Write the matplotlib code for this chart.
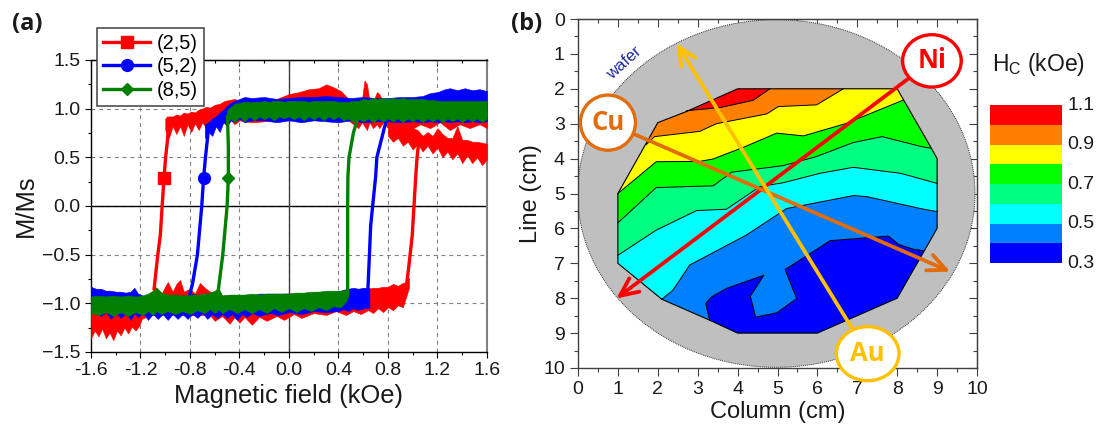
import matplotlib
matplotlib.use("Agg")
import numpy as np
import matplotlib.pyplot as plt
from matplotlib.colors import ListedColormap
from matplotlib.patches import Circle, Ellipse, Polygon
from matplotlib.ticker import MultipleLocator

plt.rcParams['font.family'] = ['Liberation Sans', 'DejaVu Sans']
plt.rcParams['mathtext.default'] = 'regular'

# (a) hysteresis loops. bands are (field, low, high)
red_up = [(-1.00,.78,.90),(-.97,.70,.92),(-.94,.82,.92),(-.91,.74,.94),(-.88,.82,.93),(-.85,.72,.96),(-.82,.84,.95),(-.79,.76,.97),
    (-.76,.85,.96),(-.73,.78,.99),(-.70,.86,1.00),(-.67,.80,1.02),(-.64,.88,1.01),(-.60,.84,1.04),(-.56,.90,1.05),(-.52,.86,1.08),
    (-.48,.90,1.09),(-.44,.84,1.10),(-.40,.88,1.08),(-.30,.86,1.08),(-.20,.87,1.09),(-.10,.88,1.10),(0.0,.90,1.15),(.08,.90,1.17),
    (.16,.90,1.20),(.24,.90,1.21),(.30,.90,1.25),(.36,.90,1.22),(.42,.88,1.18),(.48,.88,1.10),(.52,.84,1.07),(.56,.80,1.08),
    (.59,.86,1.10),(.61,.82,1.29),(.63,.78,1.25),(.65,.86,1.08),(.68,.80,1.07),(.71,.84,1.17),(.73,.80,1.15),(.76,.86,1.07),
    (.80,.80,1.07),(.90,.84,1.06),(.98,.78,1.06),(1.06,.84,1.05),(1.14,.80,1.06),(1.22,.86,1.05),(1.30,.78,1.05),(1.38,.84,1.05),
    (1.46,.80,1.05),(1.54,.84,1.05),(1.60,.80,1.05)]
red_up2 = [(.80,.72,.88),(.84,.66,.86),(.88,.70,.85),(.92,.62,.83),(.96,.66,.82),(1.00,.58,.80),(1.04,.64,.78),(1.08,.56,.72),
    (1.12,.62,.76),(1.16,.54,.72),(1.20,.60,.80),(1.24,.50,.74),(1.28,.56,.70),(1.32,.48,.70),(1.36,.54,.82),(1.40,.44,.68),
    (1.44,.52,.68),(1.48,.44,.66),(1.52,.50,.66),(1.56,.42,.65),(1.60,.48,.64)]
red_dn = [(-1.60,-1.36,-.97),(-1.57,-1.28,-.97),(-1.54,-1.34,-.97),(-1.51,-1.26,-.98),(-1.48,-1.36,-.98),(-1.45,-1.30,-.98),
    (-1.42,-1.38,-.98),(-1.39,-1.28,-.98),(-1.36,-1.33,-.98),(-1.33,-1.25,-.98),(-1.30,-1.31,-.98),(-1.27,-1.24,-.98),(-1.24,-1.28,-.98),
    (-1.21,-1.23,-.98),(-1.19,-1.16,-.98),(-1.12,-1.12,-.92),(-1.08,-1.12,-.83),(-1.03,-1.12,-.90),(-.98,-1.12,-.78),(-.94,-1.12,-.88),
    (-.91,-1.12,-.80),(-.88,-1.12,-.76),(-.85,-1.12,-.88),(-.80,-1.12,-.85),(-.76,-1.12,-.90),(-.72,-1.12,-.79),(-.68,-1.12,-.84),
    (-.64,-1.12,-.88),(-.60,-1.18,-.88),(-.54,-1.13,-.92),(-.48,-1.21,-.92),(-.44,-1.14,-.92),(-.40,-1.20,-.92),(-.36,-1.14,-.92),
    (-.30,-1.22,-.92),(-.24,-1.14,-.92),(-.18,-1.18,-.92),(-.10,-1.13,-.92),(-.04,-1.17,-.90),(.04,-1.11,-.90),(.10,-1.15,-.90),
    (.20,-1.10,-.89),(.30,-1.12,-.88),(.38,-1.08,-.88),(.46,-1.12,-.86),(.52,-1.08,-.86),(.58,-1.11,-.86),(.64,-1.07,-.85),
    (.68,-1.10,-.84),(.72,-1.05,-.84),(.76,-1.09,-.83),(.80,-1.04,-.83),(.84,-1.07,-.80),(.88,-1.02,-.82),(.92,-1.04,-.79),
    (.95,-.92,-.78),(.97,-.84,-.74)]

blue_up = [(-.68,.70,.84),(-.65,.76,.86),(-.62,.72,.90),(-.59,.82,.92),(-.56,.76,.96),(-.53,.86,.99),(-.50,.82,1.03),(-.47,.88,1.06),
    (-.44,.86,1.08),(-.40,.90,1.10),(-.36,.86,1.12),(-.30,.88,1.11),(-.20,.88,1.12),(-.10,.86,1.10),(0.0,.88,1.11),(.10,.86,1.12),
    (.20,.88,1.12),(.30,.87,1.13),(.40,.86,1.12),(.50,.88,1.11),(.60,.86,1.12),(.70,.87,1.11),(.80,.87,1.11),(.90,.86,1.12),
    (1.00,.87,1.12),(1.08,.86,1.13),(1.14,.87,1.16),(1.20,.86,1.17),(1.26,.87,1.20),(1.30,.86,1.21),(1.36,.87,1.19),(1.42,.86,1.21),
    (1.48,.87,1.19),(1.54,.86,1.20),(1.60,.87,1.18)]
blue_dn = [(-1.60,-1.10,-.83),(-1.56,-1.08,-.85),(-1.52,-1.13,-.85),(-1.48,-1.09,-.87),(-1.44,-1.16,-.87),(-1.40,-1.10,-.88),
    (-1.36,-1.15,-.88),(-1.32,-1.10,-.89),(-1.28,-1.17,-.88),(-1.25,-1.10,-.84),(-1.22,-1.14,-.90),(-1.18,-1.10,-.92),(-1.14,-1.17,-.92),
    (-1.10,-1.11,-.92),(-1.06,-1.16,-.92),(-1.02,-1.11,-.92),(-.98,-1.17,-.92),(-.94,-1.11,-.92),(-.90,-1.16,-.92),(-.86,-1.11,-.92),
    (-.82,-1.16,-.92),(-.78,-1.11,-.90),(-.74,-1.15,-.92),(-.70,-1.10,-.92),(-.66,-1.16,-.92),(-.62,-1.11,-.92),(-.58,-1.15,-.92),
    (-.54,-1.11,-.92),(-.50,-1.15,-.92),(-.46,-1.11,-.92),(-.42,-1.17,-.92),(-.38,-1.11,-.92),(-.34,-1.14,-.92),(-.30,-1.10,-.92),
    (-.24,-1.13,-.90),(-.16,-1.10,-.90),(-.08,-1.12,-.90),(0.0,-1.09,-.90),(.10,-1.11,-.90),(.20,-1.08,-.89),(.30,-1.09,-.88),
    (.40,-1.08,-.88),(.44,-1.06,-.86),(.48,-1.08,-.85),(.52,-1.05,-.84),(.56,-1.07,-.85),(.60,-1.05,-.84),(.65,-1.05,-.84)]

green_up = [(-.50,.86,.98),(-.47,.90,1.02),(-.44,.86,1.05),(-.40,.92,1.06),(-.36,.87,1.07),(-.32,.92,1.07),(-.28,.88,1.07),(-.24,.92,1.07),
    (-.20,.89,1.08),(-.16,.92,1.07),(-.12,.88,1.08),(-.08,.92,1.08),(-.04,.90,1.07),(0.0,.92,1.08),(.04,.89,1.08),(.08,.92,1.08),
    (.12,.88,1.08),(.16,.92,1.07),(.20,.89,1.08),(.24,.92,1.08),(.28,.88,1.08),(.32,.92,1.08),(.36,.89,1.08),(.40,.92,1.07),
    (.44,.88,1.07),(.48,.90,1.07),(.52,.86,1.08),(.56,.90,1.08),(.60,.87,1.10),(.64,.90,1.09),(.68,.86,1.11),(.72,.90,1.10),
    (.76,.87,1.11),(.80,.90,1.10),(.84,.87,1.11),(.88,.90,1.10),(.92,.86,1.11),(.96,.90,1.10),(1.00,.87,1.10),(1.04,.90,1.10),
    (1.08,.86,1.10),(1.12,.90,1.09),(1.16,.87,1.09),(1.20,.90,1.08),(1.24,.86,1.08),(1.28,.90,1.08),(1.32,.87,1.08),(1.36,.90,1.08),
    (1.40,.86,1.08),(1.44,.90,1.08),(1.48,.87,1.08),(1.52,.90,1.08),(1.56,.86,1.08),(1.60,.90,1.08)]
green_dn = [(-1.60,-1.10,-.93),(-1.54,-1.12,-.92),(-1.48,-1.09,-.93),(-1.42,-1.13,-.92),(-1.36,-1.09,-.93),(-1.30,-1.13,-.92),
    (-1.24,-1.09,-.93),(-1.18,-1.12,-.92),(-1.14,-1.08,-.90),(-1.10,-1.12,-.87),(-1.07,-1.08,-.84),(-1.03,-1.11,-.89),(-.98,-1.08,-.91),
    (-.92,-1.11,-.91),(-.86,-1.08,-.92),(-.80,-1.11,-.91),(-.74,-1.07,-.91),(-.68,-1.10,-.90),(-.64,-1.06,-.89),(-.60,-1.10,-.87),
    (-.57,-1.06,-.84),(-.54,-1.10,-.92),(-.48,-1.06,-.91),(-.42,-1.10,-.91),(-.36,-1.06,-.91),(-.30,-1.10,-.90),(-.24,-1.06,-.91),
    (-.18,-1.10,-.90),(-.12,-1.05,-.90),(-.06,-1.09,-.90),(0.0,-1.05,-.90),(.06,-1.09,-.89),(.12,-1.05,-.89),(.18,-1.08,-.88),
    (.24,-1.04,-.88),(.30,-1.07,-.87),(.36,-1.03,-.87),(.42,-1.04,-.87),(.46,-.98,-.86),(.48,-.92,-.86)]

red_left = [(-1.09,-.85),(-1.06,-.50),(-1.04,-.30),(-1.025,0.0),(-1.01,.29),(-.997,.50),(-.98,.70),(-.975,.90)]
red_right = [(.951,-.80),(.97,-.60),(.996,-.30),(1.01,0.0),(1.024,.30),(1.035,.50),(1.05,.68)]
blue_left = [(-.80,-.90),(-.78,-.80),(-.74,-.50),(-.705,0.0),(-.69,.29),(-.675,.50),(-.65,.80)]
blue_right = [(.636,-.90),(.65,-.50),(.66,-.20),(.676,0.0),(.70,.30),(.71,.50),(.75,.70),(.79,.90)]
green_left = [(-.57,-.85),(-.535,-.50),(-.50,0.0),(-.49,.29),(-.49,.60),(-.497,.92)]
green_right = [(.474,-.90),(.474,-.50),(.474,0.0),(.476,.30),(.485,.50),(.52,.75),(.555,.90)]

sample_labels = ['(2,5)', '(5,2)', '(8,5)']
hc_levels = [0.3, 0.4, 0.5, 0.6, 0.7, 0.8, 0.9, 1.0, 1.1]
hc_colors = ['#0000FF', '#0080FF', '#00FFFF', '#00FF80', '#00FF00', '#FFFF00', '#FF8000', '#FF0000']
hc_ticks = [1.1, 0.9, 0.7, 0.5, 0.3]
hc_tick_labels = ['1.1', '0.9', '0.7', '0.5', '0.3']

# (b) outline of the map and the contour lines, (column, line)
hull = [(4,2),(8,2),(8.83,3.65),(9,4),(9,6),(8,8),(6,9),(4,9),(3.3,8.63),(2.1,8.03),(1,7),(1,5),(2,2.97),(2.72,2.65)]
line_red = [(2.72,2.63),(3.6,2.53),(4.39,2.33),(4.81,2.0)]
line_orange = [(1.71,3.6),(1.92,3.37),(3.05,3.22),(3.47,3.0),(4.73,2.72),(5.02,2.51),(5.98,2.46),(6.65,2.0)]
line_yellow = [(1,5),(1.96,4.09),(3.05,4.08),(3.39,4.01),(4.18,3.66),(4.98,3.27),(5.65,3.35),(6.7,3.0),(8.16,2.32)]
line_green = [(1,5.84),(1.96,4.83),(3.39,4.78),(3.85,4.39),(5.15,4.2),(5.98,3.94),(6.9,3.54),(7.62,3.37),(8.62,3.66),(8.83,3.7)]
line_spring = [(1,6.77),(1.96,6.05),(2.97,5.49),(3.72,5.45),(4.56,4.8),(5.15,4.69),(6.07,4.42),(6.9,4.25),(8.08,4.42),(9,4.71)]
line_cyan = [(2.1,8.03),(2.38,7.77),(2.8,7.05),(4.22,6.19),(5.23,5.43),(6.9,5.06),(7.24,5.09),(8.58,5.43),(9,5.52)]
line_blue = [(3.3,8.63),(3.2,8.15),(3.35,7.96),(3.72,7.72),(4.66,7.34),(4.32,7.94),(4.45,8.54),(4.98,8.42),(5.48,8.01),(5.19,7.18),
    (6.32,6.35),(6.99,6.29),(7.78,6.22),(8.04,6.46),(8.41,6.6),(8.68,6.64)]
blue_corners = [(8,8),(6,9),(4,9)]

element_names = ['Ni', 'Cu', 'Au']
element_colors = ['#FF0000', '#E26B0A', '#FFC000']
element_tail = [(8.87,1.2),(0.75,2.97),(7.26,9.59)]
element_tip = [(0.96,8.01),(9.33,7.24),(2.47,0.69)]
element_size = [(1.47,1.5),(1.38,1.58),(1.57,1.55)]

W, H = 1100, 428
fig = plt.figure(figsize=(W/100, H/100), dpi=100)

def px_axes(x0, y0, x1, y1):
    return fig.add_axes([x0/W, 1-y1/H, (x1-x0)/W, (y1-y0)/H])

def band(ax, rows, color):
    x, lo, hi = zip(*rows)
    ax.fill_between(x, lo, hi, color=color, lw=0.4, zorder=3)

# ---- panel a
ax = px_axes(91, 60, 487, 352)
ax.set_xlim(-1.6, 1.6)
ax.set_ylim(-1.5, 1.5)
ax.set_xticks(np.arange(-1.6, 1.61, 0.4))
ax.set_xticklabels(['-1.6', '-1.2', '-0.8', '-0.4', '0.0', '0.4', '0.8', '1.2', '1.6'])
ax.set_yticks([-1.5, -1.0, -0.5, 0.0, 0.5, 1.0, 1.5])
ax.xaxis.set_minor_locator(MultipleLocator(0.2))
ax.yaxis.set_minor_locator(MultipleLocator(0.25))
ax.grid(True, which='major', color='#808080', lw=0.8, ls=(0, (3.5, 3.5)), zorder=1)
ax.set_axisbelow(True)
ax.axhline(0, color='black', lw=1.0, zorder=2)
ax.axvline(0, color='#404040', lw=1.0, zorder=2)

loops = [('#FF0000', 's', 9, [red_up, red_up2, red_dn], red_left, red_right),
         ('#0000FF', 'o', 8.5, [blue_up, blue_dn], blue_left, blue_right),
         ('#007F00', 'D', 6, [green_up, green_dn], green_left, green_right)]
handles = []
for (color, marker, ms, bands, left, right), label in zip(loops, sample_labels):
    for rows in bands:
        band(ax, rows, color)
    xr, yr = zip(*right)
    ax.plot(xr, yr, color=color, lw=2.4, zorder=3)
    xl, yl = zip(*left)
    k = [i for i, v in enumerate(yl) if v == 0.29]
    h, = ax.plot(xl, yl, color=color, lw=2.4, marker=marker, ms=ms, markevery=k, zorder=4, label=label)
    handles.append(h)

for s in ['top', 'bottom', 'left']:
    ax.spines[s].set_color('black')
    ax.spines[s].set_linewidth(1.0)
ax.spines['right'].set_color('#808080')
ax.spines['right'].set_linewidth(1.5)
ax.tick_params(which='major', direction='out', length=4.5, width=0.8, labelsize=14, pad=3, labelcolor='#1a1a1a')
ax.tick_params(which='minor', direction='out', length=2.5, width=0.8)
top_a = ax.secondary_xaxis('top')
top_a.set_xticks(ax.get_xticks(), labels=[])
top_a.xaxis.set_minor_locator(MultipleLocator(0.2))
top_a.tick_params(which='major', direction='in', length=4, width=0.8)
top_a.tick_params(which='minor', direction='in', length=2.5, width=0.8)
ax.set_xlabel('Magnetic field (kOe)', fontsize=18.4, labelpad=3, color='#1a1a1a')
ax.set_ylabel('M/Ms', fontsize=18.4, labelpad=3, color='#1a1a1a')
leg = ax.legend(handles=handles, loc='upper left', bbox_to_anchor=(6/396, 1+32/292), borderaxespad=0, fontsize=14.5,
                handlelength=2.35, handletextpad=0.3, labelspacing=0.22, borderpad=0.3, fancybox=False, framealpha=1,
                edgecolor='#404040', numpoints=1)
leg.get_frame().set_linewidth(1.1)
leg.set_zorder(10)
fig.text(12/W, 1-30/H, '(a)', fontsize=17, fontweight='bold', family=['Open Sans', 'DejaVu Sans'], color='#1a1a1a')

# ---- panel b
bx = px_axes(578, 19, 977, 368)
bx.set_xlim(0, 10)
bx.set_ylim(10, 0)
bx.xaxis.set_major_locator(MultipleLocator(1))
bx.xaxis.set_minor_locator(MultipleLocator(0.5))
bx.yaxis.set_major_locator(MultipleLocator(1))
bx.yaxis.set_minor_locator(MultipleLocator(0.5))

bx.add_patch(Circle((4.97, 5), 4.98, facecolor='#BFBFBF', edgecolor='#303030', lw=0.7, ls=(0, (1, 1)), zorder=1))
map_patch = Polygon(hull, closed=True, facecolor=hc_colors[7], edgecolor='none', zorder=2)
bx.add_patch(map_patch)

# each level covers everything below its contour line, clipped to the map outline
contours = [line_red, line_orange, line_yellow, line_green, line_spring, line_cyan]
for line, color in zip(contours, hc_colors[6:0:-1]):
    pts = [(-1, line[0][1])] + line + [(11, line[-1][1]), (11, 11), (-1, 11)]
    p = Polygon(pts, closed=True, facecolor=color, edgecolor='none', zorder=3)
    bx.add_patch(p)
    p.set_clip_path(map_patch)
p = Polygon(line_blue + blue_corners, closed=True, facecolor=hc_colors[0], edgecolor='none', zorder=3)
bx.add_patch(p)
p.set_clip_path(map_patch)
for line in contours + [line_blue]:
    xc, yc = zip(*line)
    bx.plot(xc, yc, color='black', lw=0.7, zorder=4)
bx.add_patch(Polygon(hull, closed=True, facecolor='none', edgecolor='black', lw=0.8, zorder=5))

bx.text(1.17, 1.26, 'wafer', color='#1F2A9C', fontsize=12, rotation=42, ha='center', va='center', zorder=6)

for color, tail, tip in zip(element_colors, element_tail, element_tip):
    bx.annotate('', xy=tip, xytext=tail, zorder=7, annotation_clip=False,
                arrowprops=dict(arrowstyle='->,head_length=1.3,head_width=0.6', color=color, lw=2.7, shrinkA=0, shrinkB=0))
for name, color, tail, size in zip(element_names, element_colors, element_tail, element_size):
    bx.add_patch(Ellipse(tail, size[0], size[1], facecolor='white', edgecolor=color, lw=2.4, zorder=8, clip_on=False))
    bx.text(tail[0], tail[1], name, color=color, fontsize=18.5, fontweight='bold', ha='center', va='center', zorder=9,
            family=['Open Sans', 'DejaVu Sans'])

for s in bx.spines.values():
    s.set_color('#404040')
    s.set_linewidth(1.0)
bx.tick_params(which='major', direction='out', length=6, width=0.8, labelsize=14, pad=3.5, labelcolor='#1a1a1a', color='#404040')
bx.tick_params(which='minor', direction='out', length=3, width=0.8, color='#404040')
top_b = bx.secondary_xaxis('top')
top_b.xaxis.set_major_locator(MultipleLocator(1))
top_b.xaxis.set_minor_locator(MultipleLocator(0.5))
top_b.tick_params(which='major', direction='in', length=6, width=0.8, labeltop=False, color='#404040')
top_b.tick_params(which='minor', direction='in', length=3, width=0.8, color='#404040')
right_b = bx.secondary_yaxis('right')
right_b.yaxis.set_major_locator(MultipleLocator(1))
right_b.yaxis.set_minor_locator(MultipleLocator(0.5))
right_b.tick_params(which='major', direction='in', length=6, width=0.8, labelright=False, color='#404040')
right_b.tick_params(which='minor', direction='in', length=3, width=0.8, color='#404040')
for s in list(top_b.spines.values()) + list(right_b.spines.values()):
    s.set_color('#404040')
bx.set_xlabel('Column (cm)', fontsize=17, labelpad=2, color='#1a1a1a')
bx.set_ylabel('Line (cm)', fontsize=17, labelpad=1, color='#1a1a1a')
fig.text(511/W, 1-30/H, '(b)', fontsize=17, fontweight='bold', family=['Open Sans', 'DejaVu Sans'], color='#1a1a1a')

# ---- colour scale
cax = px_axes(990, 105, 1062, 263)
cmap = ListedColormap(hc_colors)
cax.pcolormesh([0, 1], hc_levels, np.arange(8).reshape(-1, 1), cmap=cmap, shading='flat')
cax.set_ylim(0.3, 1.1)
cax.axis('off')
for v, lab in zip(hc_ticks, hc_tick_labels):
    cax.text(1.07, v, lab, fontsize=14, va='center', ha='left', color='#1a1a1a', clip_on=False)
fig.text(992/W, 1-71/H, 'H$_C$ (kOe)', fontsize=16.5, color='#1a1a1a')

fig.savefig('out.png', dpi=100)
